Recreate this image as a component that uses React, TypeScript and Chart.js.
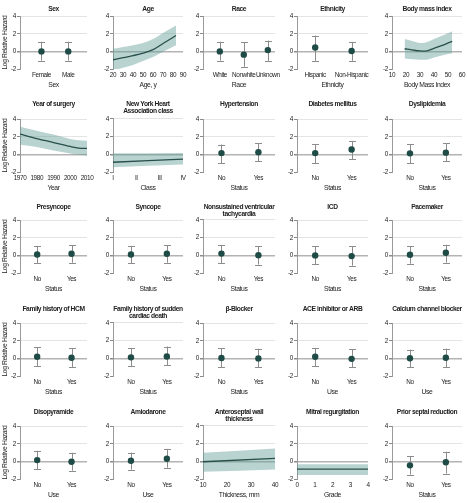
import React, { useEffect, useRef } from 'react';
import { Chart, registerables } from 'chart.js';

Chart.register(...registerables);

// The reference uses a condensed face; none is installed, so a regular sans
// with slightly negative letter spacing is used to approximate its width.
const FONT = '"Liberation Sans", Arial, sans-serif';
const LETTER_SPACING = '-0.4px';

// ---------- shared axis data ----------
const yTicks = [-2, 0, 2, 4];
const yAxisTitle = 'Log Relative Hazard';
const statusCats = ['No', 'Yes'];
const nyhaLabels = ['I', 'II', 'III', 'IV'];

// ---------- point-estimate panels ----------
const sexCats = ['Female', 'Male'];
const sexEst = [0.0, 0.0];
const sexLo = [-1.05, -1.05];
const sexHi = [1.1, 1.1];

const raceCats = ['White', 'Nonwhite', 'Unknown'];
const raceEst = [0.0, -0.37, 0.15];
const raceLo = [-1.05, -1.75, -1.08];
const raceHi = [1.1, 1.05, 1.23];

const ethCats = ['Hispanic', 'Non-Hispanic'];
const ethEst = [0.45, 0.04];
const ethLo = [-1.07, -1.07];
const ethHi = [1.8, 1.08];

const htnEst = [0.15, 0.25];
const htnLo = [-1.02, -0.78];
const htnHi = [1.12, 1.28];

const dmEst = [0.15, 0.55];
const dmLo = [-1.02, -0.57];
const dmHi = [1.15, 1.54];

const dlEst = [0.12, 0.2];
const dlLo = [-1.0, -0.8];
const dlHi = [1.15, 1.27];

const presEst = [0.11, 0.19];
const presLo = [-0.92, -0.83];
const presHi = [1.08, 1.17];

const syncEst = [0.1, 0.19];
const syncLo = [-0.9, -0.83];
const syncHi = [1.08, 1.17];

const nsvtEst = [0.19, 0.0];
const nsvtLo = [-0.92, -1.05];
const nsvtHi = [1.17, 1.05];

const icdEst = [0.0, -0.08];
const icdLo = [-1.03, -1.17];
const icdHi = [1.06, 1.06];

const pmEst = [0.08, 0.3];
const pmLo = [-0.94, -0.83];
const pmHi = [1.06, 1.2];

const fhHcmEst = [0.19, 0.07];
const fhHcmLo = [-0.88, -0.97];
const fhHcmHi = [1.25, 1.13];

const fhScdEst = [0.11, 0.2];
const fhScdLo = [-0.9, -0.78];
const fhScdHi = [1.13, 1.33];

const bbEst = [0.04, 0.0];
const bbLo = [-1.0, -1.0];
const bbHi = [1.13, 1.1];

const aceEst = [0.19, -0.05];
const aceLo = [-0.88, -1.0];
const aceHi = [1.13, 1.02];

const ccbEst = [0.02, 0.07];
const ccbLo = [-1.0, -1.0];
const ccbHi = [1.0, 1.1];

const disoEst = [0.15, -0.04];
const disoLo = [-0.9, -1.05];
const disoHi = [1.2, 0.98];

const amioEst = [0.07, 0.3];
const amioLo = [-0.94, -0.71];
const amioHi = [1.0, 1.42];

const septEst = [-0.45, -0.1];
const septLo = [-1.5, -1.39];
const septHi = [0.6, 1.1];

// ---------- spline panels ----------
const ageX = [20, 30, 40, 50, 60, 70, 83];
const ageEst = [-0.95, -0.72, -0.48, -0.2, 0.2, 0.9, 1.8];
const ageHi = [0.3, 0.5, 0.7, 0.95, 1.4, 2.1, 2.95];
const ageLo = [-2.15, -1.85, -1.55, -1.1, -0.65, -0.05, 0.7];

const bmiX = [19, 25, 30, 34, 40, 47, 53];
const bmiEst = [0.3, 0.15, 0.05, 0.03, 0.35, 0.75, 1.15];
const bmiHi = [1.4, 1.15, 0.95, 1.0, 1.4, 1.85, 2.3];
const bmiLo = [-0.8, -0.9, -0.95, -0.95, -0.7, -0.4, -0.2];

const yearX = [1970, 1980, 1990, 2000, 2005, 2010];
const yearEst = [2.3, 1.8, 1.35, 0.9, 0.72, 0.68];
const yearHi = [3.15, 2.7, 2.25, 1.75, 1.6, 1.55];
const yearLo = [1.1, 0.85, 0.45, 0.1, -0.05, -0.12];

const nyhaX = [1, 4];
const nyhaEst = [-0.9, -0.55];
const nyhaHi = [0.12, 0.15];
const nyhaLo = [-1.45, -1.15];

const thickX = [10, 40];
const thickEst = [-0.05, 0.33];
const thickHi = [0.96, 1.45];
const thickLo = [-1.18, -0.92];

const mrX = [0, 4];
const mrEst = [-0.88, -0.88];
const mrHi = [-0.32, -0.32];
const mrLo = [-1.55, -1.55];

// ---------- layout ----------
const colPL = [20, 113, 203, 297, 392];
const colPR = [87, 183, 275, 368, 462];
const rowPT = [16, 119, 220, 323, 426];
const rowTitleC = [9, 104, 207, 309, 412];
const PLOT_H = 53;
const TITLE_LH = 7;
const XH = 22;
const RIGHT_PAD = 8;

type PanelSpec = {
  row: number;
  col: number;
  title: string | string[];
  xTitle: string;
  kind: 'pt' | 'curve';
  cats?: string[];
  xs?: number[];
  est: number[];
  lo: number[];
  hi: number[];
  xMin: number;
  xMax: number;
  step?: number;
  roman?: boolean;
};

const PT2 = { xMin: 0.5, xMax: 2.45 };

const panels: PanelSpec[] = [
  { row: 0, col: 0, title: 'Sex', xTitle: 'Sex', kind: 'pt', cats: sexCats, est: sexEst, lo: sexLo, hi: sexHi, xMin: 0.2, xMax: 2.7 },
  { row: 0, col: 1, title: 'Age', xTitle: 'Age, y', kind: 'curve', xs: ageX, est: ageEst, lo: ageLo, hi: ageHi, xMin: 20, xMax: 90, step: 10 },
  { row: 0, col: 2, title: 'Race', xTitle: 'Race', kind: 'pt', cats: raceCats, est: raceEst, lo: raceLo, hi: raceHi, xMin: 0.3, xMax: 3.3 },
  { row: 0, col: 3, title: 'Ethnicity', xTitle: 'Ethnicity', kind: 'pt', cats: ethCats, est: ethEst, lo: ethLo, hi: ethHi, ...PT2 },
  { row: 0, col: 4, title: 'Body mass index', xTitle: 'Body Mass Index', kind: 'curve', xs: bmiX, est: bmiEst, lo: bmiLo, hi: bmiHi, xMin: 10, xMax: 60, step: 10 },

  { row: 1, col: 0, title: 'Year of surgery', xTitle: 'Year', kind: 'curve', xs: yearX, est: yearEst, lo: yearLo, hi: yearHi, xMin: 1970, xMax: 2010, step: 10 },
  { row: 1, col: 1, title: ['New York Heart', 'Association class'], xTitle: 'Class', kind: 'curve', xs: nyhaX, est: nyhaEst, lo: nyhaLo, hi: nyhaHi, xMin: 1, xMax: 4, step: 1, roman: true },
  { row: 1, col: 2, title: 'Hypertension', xTitle: 'Status', kind: 'pt', cats: statusCats, est: htnEst, lo: htnLo, hi: htnHi, ...PT2 },
  { row: 1, col: 3, title: 'Diabetes mellitus', xTitle: 'Status', kind: 'pt', cats: statusCats, est: dmEst, lo: dmLo, hi: dmHi, ...PT2 },
  { row: 1, col: 4, title: 'Dyslipidemia', xTitle: 'Status', kind: 'pt', cats: statusCats, est: dlEst, lo: dlLo, hi: dlHi, ...PT2 },

  { row: 2, col: 0, title: 'Presyncope', xTitle: 'Status', kind: 'pt', cats: statusCats, est: presEst, lo: presLo, hi: presHi, ...PT2 },
  { row: 2, col: 1, title: 'Syncope', xTitle: 'Status', kind: 'pt', cats: statusCats, est: syncEst, lo: syncLo, hi: syncHi, ...PT2 },
  { row: 2, col: 2, title: ['Nonsustained ventricular', 'tachycardia'], xTitle: 'Status', kind: 'pt', cats: statusCats, est: nsvtEst, lo: nsvtLo, hi: nsvtHi, ...PT2 },
  { row: 2, col: 3, title: 'ICD', xTitle: 'Status', kind: 'pt', cats: statusCats, est: icdEst, lo: icdLo, hi: icdHi, ...PT2 },
  { row: 2, col: 4, title: 'Pacemaker', xTitle: 'Status', kind: 'pt', cats: statusCats, est: pmEst, lo: pmLo, hi: pmHi, ...PT2 },

  { row: 3, col: 0, title: 'Family history of HCM', xTitle: 'Status', kind: 'pt', cats: statusCats, est: fhHcmEst, lo: fhHcmLo, hi: fhHcmHi, ...PT2 },
  { row: 3, col: 1, title: ['Family history of sudden', 'cardiac death'], xTitle: 'Status', kind: 'pt', cats: statusCats, est: fhScdEst, lo: fhScdLo, hi: fhScdHi, ...PT2 },
  { row: 3, col: 2, title: 'β-Blocker', xTitle: 'Status', kind: 'pt', cats: statusCats, est: bbEst, lo: bbLo, hi: bbHi, ...PT2 },
  { row: 3, col: 3, title: 'ACE inhibitor or ARB', xTitle: 'Use', kind: 'pt', cats: statusCats, est: aceEst, lo: aceLo, hi: aceHi, ...PT2 },
  { row: 3, col: 4, title: 'Calcium channel blocker', xTitle: 'Use', kind: 'pt', cats: statusCats, est: ccbEst, lo: ccbLo, hi: ccbHi, ...PT2 },

  { row: 4, col: 0, title: 'Disopyramide', xTitle: 'Use', kind: 'pt', cats: statusCats, est: disoEst, lo: disoLo, hi: disoHi, ...PT2 },
  { row: 4, col: 1, title: 'Amiodarone', xTitle: 'Use', kind: 'pt', cats: statusCats, est: amioEst, lo: amioLo, hi: amioHi, ...PT2 },
  { row: 4, col: 2, title: ['Anteroseptal wall', 'thickness'], xTitle: 'Thickness, mm', kind: 'curve', xs: thickX, est: thickEst, lo: thickLo, hi: thickHi, xMin: 10, xMax: 40, step: 10 },
  { row: 4, col: 3, title: 'Mitral regurgitation', xTitle: 'Grade', kind: 'curve', xs: mrX, est: mrEst, lo: mrLo, hi: mrHi, xMin: 0, xMax: 4, step: 1 },
  { row: 4, col: 4, title: 'Prior septal reduction', xTitle: 'Status', kind: 'pt', cats: statusCats, est: septEst, lo: septLo, hi: septHi, ...PT2 },
];

const TEXT = '#222222';
const POINT = '#1f4b46';
const LINE = '#284f4b';
const BAND = 'rgba(98,157,151,0.45)';
const ERR = '#8c8c8c';

function geom(p: PanelSpec) {
  const yw = p.col === 0 ? 20 : 16;
  const PL = colPL[p.col];
  const PR = colPR[p.col];
  const PT = rowPT[p.row];
  const canvasTop = rowTitleC[p.row] - TITLE_LH / 2;
  const titleH = PT - canvasTop;
  const n = Array.isArray(p.title) ? p.title.length : 1;
  const titlePadBottom = titleH - n * TITLE_LH;
  return {
    left: PL - yw,
    top: canvasTop,
    width: PR - PL + yw + RIGHT_PAD,
    height: titleH + PLOT_H + XH,
    yw,
    titlePadBottom,
  };
}

const spacingPlugin = {
  id: 'letterSpacing',
  beforeLayout(chart: any) {
    if (chart.ctx && 'letterSpacing' in chart.ctx) chart.ctx.letterSpacing = LETTER_SPACING;
  },
  beforeDraw(chart: any) {
    if (chart.ctx && 'letterSpacing' in chart.ctx) chart.ctx.letterSpacing = LETTER_SPACING;
  },
};

function Panel({ p }: { p: PanelSpec }) {
  const ref = useRef<HTMLCanvasElement | null>(null);
  const g = geom(p);

  useEffect(() => {
    if (!ref.current) return;
    const datasets: any[] = [];
    const plugins: any[] = [spacingPlugin];
    if (p.kind === 'pt') {
      const cats = p.cats as string[];
      datasets.push({
        type: 'scatter',
        data: cats.map((_, i) => ({ x: i + 1, y: p.est[i] })),
        pointRadius: 3.2,
        pointBackgroundColor: POINT,
        pointBorderWidth: 0,
        showLine: false,
      });
      plugins.push({
        id: 'errorBars',
        beforeDatasetsDraw(chart: any) {
          const { ctx, scales } = chart;
          const xs = scales.x;
          const ys = scales.y;
          ctx.save();
          ctx.strokeStyle = ERR;
          ctx.lineWidth = 1;
          cats.forEach((_, i) => {
            const px = Math.round(xs.getPixelForValue(i + 1)) + 0.5;
            const y1 = ys.getPixelForValue(p.lo[i]);
            const y2 = ys.getPixelForValue(p.hi[i]);
            ctx.beginPath();
            ctx.moveTo(px, y1);
            ctx.lineTo(px, y2);
            ctx.moveTo(px - 3.5, Math.round(y1) + 0.5);
            ctx.lineTo(px + 3.5, Math.round(y1) + 0.5);
            ctx.moveTo(px - 3.5, Math.round(y2) + 0.5);
            ctx.lineTo(px + 3.5, Math.round(y2) + 0.5);
            ctx.stroke();
          });
          ctx.restore();
        },
      });
    } else {
      const xs = p.xs as number[];
      datasets.push({
        data: xs.map((x, i) => ({ x, y: p.est[i] })),
        borderColor: LINE,
        borderWidth: 1.3,
        pointRadius: 0,
        fill: false,
        cubicInterpolationMode: 'monotone',
      });
      datasets.push({
        data: xs.map((x, i) => ({ x, y: p.lo[i] })),
        borderColor: 'rgba(0,0,0,0)',
        pointRadius: 0,
        fill: false,
        cubicInterpolationMode: 'monotone',
      });
      datasets.push({
        data: xs.map((x, i) => ({ x, y: p.hi[i] })),
        borderColor: 'rgba(0,0,0,0)',
        backgroundColor: BAND,
        pointRadius: 0,
        fill: '-1',
        cubicInterpolationMode: 'monotone',
      });
    }

    const tickFont = { family: FONT, size: 6.4, lineHeight: 1.2 };
    const xTickValues =
      p.kind === 'pt'
        ? (p.cats as string[]).map((_, i) => i + 1)
        : (() => {
            const arr: number[] = [];
            for (let v = p.xMin; v <= p.xMax + 1e-9; v += p.step as number) arr.push(v);
            return arr;
          })();

    const chart = new Chart(ref.current, {
      type: 'line',
      data: { datasets },
      plugins,
      options: {
        animation: false,
        responsive: false,
        events: [],
        layout: { padding: { left: 0, top: 0, right: RIGHT_PAD, bottom: 0 } },
        plugins: {
          legend: { display: false },
          tooltip: { enabled: false },
          title: {
            display: true,
            fullSize: false,
            text: p.title as any,
            color: TEXT,
            font: { family: FONT, size: 6.7, weight: 'bold', lineHeight: 1 },
            padding: { top: 0, bottom: g.titlePadBottom },
          },
        },
        scales: {
          x: {
            type: 'linear',
            min: p.xMin,
            max: p.xMax,
            afterBuildTicks: (s: any) => {
              s.ticks = xTickValues.map((v) => ({ value: v }));
            },
            afterFit: (s: any) => {
              s.height = XH;
              s.paddingLeft = 0;
              s.paddingRight = 0;
            },
            grid: { display: false, drawTicks: false },
            border: { display: false },
            ticks: {
              autoSkip: false,
              maxRotation: 0,
              minRotation: 0,
              padding: 2.2,
              color: TEXT,
              font: tickFont,
              callback: (v: any) => {
                if (p.kind === 'pt') return (p.cats as string[])[Math.round(v) - 1];
                if (p.roman) return nyhaLabels[Math.round(v) - 1];
                return String(v);
              },
            },
            title: {
              display: true,
              text: p.xTitle,
              color: TEXT,
              font: { family: FONT, size: 6.8, lineHeight: 1.2 },
              padding: { top: 0, bottom: 1.9 },
            },
          },
          y: {
            type: 'linear',
            min: -2,
            max: 4,
            afterBuildTicks: (s: any) => {
              s.ticks = yTicks.map((v) => ({ value: v }));
            },
            afterFit: (s: any) => {
              s.width = g.yw;
              s.paddingTop = 0;
              s.paddingBottom = 0;
            },
            grid: {
              drawTicks: true,
              tickLength: 3,
              tickColor: '#8a8a8a',
              color: (c: any) =>
                c.tick && c.tick.value === 0 ? '#b3b3b3' : c.tick && c.tick.value === -2 ? 'rgba(0,0,0,0)' : '#e4e4e4',
              lineWidth: (c: any) => (c.tick && c.tick.value === 0 ? 1.5 : 1),
            },
            border: { display: true, color: '#9a9a9a', width: 1 },
            ticks: {
              padding: 1,
              color: TEXT,
              font: tickFont,
              callback: (v: any) => String(v),
            },
            title: {
              display: p.col === 0,
              text: yAxisTitle,
              color: TEXT,
              font: { family: FONT, size: 6.8, lineHeight: 1.2 },
              padding: { top: 0.9, bottom: 0 },
            },
          },
        },
      } as any,
    });
    return () => chart.destroy();
  }, []);

  return (
    <canvas
      ref={ref}
      width={g.width}
      height={g.height}
      style={{ position: 'absolute', left: g.left, top: g.top, width: g.width, height: g.height }}
    />
  );
}

export default function App() {
  return (
    <div style={{ position: 'fixed', left: 0, top: 0, width: 467, height: 503, background: '#ffffff', overflow: 'hidden' }}>
      {panels.map((p, i) => (
        <Panel key={i} p={p} />
      ))}
    </div>
  );
}
